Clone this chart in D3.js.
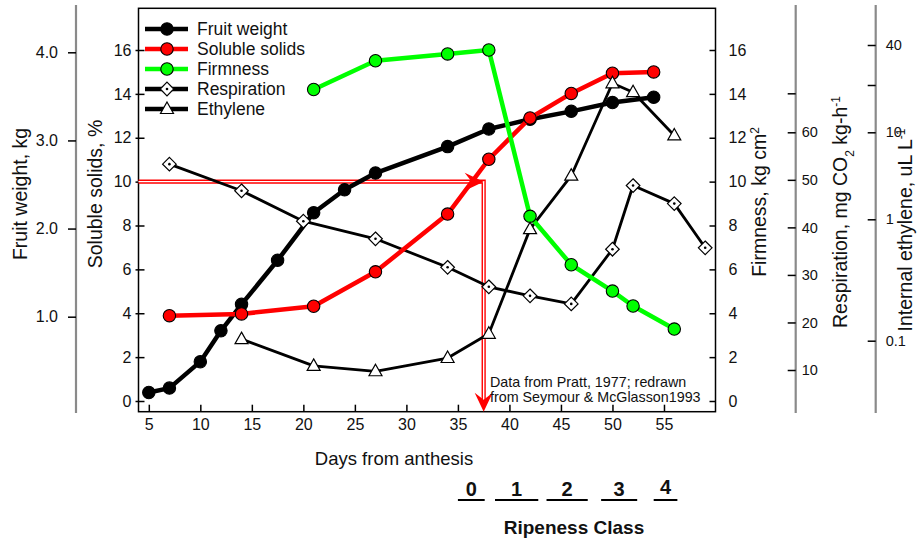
<!DOCTYPE html>
<html>
<head>
<meta charset="utf-8">
<script src="https://cdn.jsdelivr.net/npm/d3@7"></script>
<style>
html,body{margin:0;padding:0;background:#fff;}
svg{display:block;font-family:"Liberation Sans",Arial,Helvetica,sans-serif;}
</style>
</head>
<body>
<svg id="chart" width="917" height="542"></svg>
<script>
// ---------------- data ----------------
const fwDays   = [5, 7, 10, 12, 14, 17.5, 21, 24, 27, 34, 38, 42, 46, 50, 54];
const fwVals   = [0.14, 0.19, 0.49, 0.84, 1.14, 1.64, 2.18, 2.44, 2.63, 2.93, 3.13, 3.24, 3.33, 3.43, 3.49]; // kg

const ssDays   = [7, 14, 21, 27, 34, 38, 42, 46, 50, 54];
const ssVals   = [3.89, 3.97, 4.32, 5.89, 8.52, 11.02, 12.9, 14.02, 14.94, 15.0]; // %

const firmDays = [21, 27, 34, 38, 42, 46, 50, 52, 56];
const firmVals = [14.2, 15.51, 15.82, 16.0, 8.42, 6.21, 5.01, 4.33, 3.28]; // kg cm-2

const respDays = [7, 14, 20, 27, 34, 38, 42, 46, 50, 52, 56, 59];
const respVals = [53.3, 47.7, 41.3, 37.6, 31.6, 27.5, 25.6, 23.9, 35.4, 48.8, 45.0, 35.7]; // mg CO2 kg-1 h-1

const ethDays  = [14, 21, 27, 34, 38, 42, 46, 50, 52, 56];
const ethVals  = [0.103, 0.062, 0.056, 0.072, 0.114, 0.83, 3.17, 20.6, 18.0, 9.2]; // uL L-1

const xTicks     = [5, 10, 15, 20, 25, 30, 35, 40, 45, 50, 55];
const ssTicks    = [0, 2, 4, 6, 8, 10, 12, 14, 16];
const firmTicks  = [0, 2, 4, 6, 8, 10, 12, 14, 16];
const fwTicks    = [1, 2, 3, 4];
const respTicks  = [10, 20, 30, 40, 50, 60, 68.2];
const respLabels = ["10", "20", "30", "40", "50", "60", ""];
const ethTicks   = [0.1, 1, 10, 20, 40];
const ethLabels  = ["0.1", "1", "10", "", "40"];

const ripenessClasses = ["0", "1", "2", "3", "4"];
const ripenessStart   = [35.0, 38.6, 43.6, 48.9, 54.0]; // days
const ripenessEnd     = [37.6, 42.8, 47.6, 52.4, 56.3];

const markerDay = 37.5;   // red guide: 10 % soluble solids
const markerSS  = 10;

const legendNames = ["Fruit weight", "Soluble solids", "Firmness", "Respiration", "Ethylene"];

// ---------------- layout ----------------
const svg = d3.select("#chart");
const frameTop = 8.3, frameBottom = 411.7;
const x = d3.scaleLinear().domain([4, 60]).range([138.5, 715.5]);
const ySS = d3.scaleLinear().domain([0, 16]).range([401, 50]);
const yFirm = d3.scaleLinear().domain([0, 16]).range([401, 50]);
const yFW = d3.scaleLinear().domain([1, 4]).range([316.7, 52.3]);
const yResp = d3.scaleLinear().domain([10, 60]).range([370, 132.3]);
const ethPos = d3.scaleLinear()
  .domain([-1, 0, 1, Math.log10(20), Math.log10(40)])
  .range([340.7, 219.3, 132.3, 85, 45]);
const yEth = v => ethPos(Math.log10(v));

const axisGray = "#8a8a8a";
const fontMain = "16px";

function styleAxis(g, size) {
  g.selectAll(".domain").remove();
  g.selectAll(".tick line").attr("stroke", "#000").attr("stroke-width", 1.5);
  g.selectAll(".tick text").attr("fill", "#111").style("font-size", size).style("font-family", null);
  g.attr("font-family", null);
}

// frame
svg.append("rect")
  .attr("x", x(4)).attr("y", frameTop)
  .attr("width", x(60) - x(4)).attr("height", frameBottom - frameTop)
  .attr("fill", "none").attr("stroke", "#000").attr("stroke-width", 1.5);

// x axis (ticks inward)
const gx = svg.append("g").attr("transform", `translate(0,${frameBottom})`)
  .call(d3.axisBottom(x).tickValues(xTicks).tickSize(-7).tickPadding(7));
styleAxis(gx, fontMain);

// soluble solids axis (frame left)
const gss = svg.append("g").attr("transform", `translate(${x(4)},0)`)
  .call(d3.axisLeft(ySS).tickValues(ssTicks).tickSize(-6).tickPadding(7));
styleAxis(gss, fontMain);
const gss2 = svg.append("g").attr("transform", `translate(${x(4)},0)`)
  .call(d3.axisLeft(ySS).tickValues(ssTicks).tickSize(3).tickFormat(""));
styleAxis(gss2, fontMain);

// firmness axis (frame right)
const gfi = svg.append("g").attr("transform", `translate(${x(60)},0)`)
  .call(d3.axisRight(yFirm).tickValues(firmTicks).tickSize(-6).tickPadding(13));
styleAxis(gfi, fontMain);

// fruit weight axis (far left)
svg.append("line").attr("x1", 76).attr("x2", 76).attr("y1", 5).attr("y2", 413)
  .attr("stroke", axisGray).attr("stroke-width", 2.2);
const gfw = svg.append("g").attr("transform", "translate(76,0)")
  .call(d3.axisLeft(yFW).tickValues(fwTicks).tickFormat(d3.format(".1f")).tickSize(8).tickPadding(10));
styleAxis(gfw, fontMain);

// respiration axis
svg.append("line").attr("x1", 795.7).attr("x2", 795.7).attr("y1", 5).attr("y2", 413)
  .attr("stroke", axisGray).attr("stroke-width", 2.2);
const gre = svg.append("g").attr("transform", "translate(795.7,0)")
  .call(d3.axisRight(yResp).tickValues(respTicks).tickFormat((d, i) => respLabels[i]).tickSize(-8).tickPadding(6));
styleAxis(gre, "14.5px");

// ethylene axis
svg.append("line").attr("x1", 875.7).attr("x2", 875.7).attr("y1", 5).attr("y2", 413)
  .attr("stroke", axisGray).attr("stroke-width", 2.2);
const get = svg.append("g").attr("transform", "translate(875.7,0)")
  .call(d3.axisRight(ethPos).tickValues(ethTicks.map(v => Math.log10(v))).tickFormat((d, i) => ethLabels[i]).tickSize(-8).tickPadding(10));
styleAxis(get, "14.5px");

// ---------------- titles ----------------
const titleSize = "19.5px";
function vTitle(xp, yp, parts, size) {
  const t = svg.append("text")
    .attr("transform", `translate(${xp},${yp}) rotate(-90)`)
    .attr("text-anchor", "middle")
    .style("font-size", size || titleSize).attr("fill", "#111");
  parts.forEach(p => {
    const ts = t.append("tspan").text(p.t);
    if (p.sup) ts.attr("baseline-shift", "super").style("font-size", "12px");
    if (p.sub) ts.attr("baseline-shift", "sub").style("font-size", "12px");
  });
  return t;
}
vTitle(27, 194, [{t: "Fruit weight, kg"}]);
vTitle(102, 194, [{t: "Soluble solids, %"}]);
vTitle(766, 202, [{t: "Firmness, kg cm"}, {t: "2", sup: true}]);
vTitle(847, 212, [{t: "Respiration, mg CO"}, {t: "2", sub: true}, {t: " kg-h"}, {t: "-1", sup: true}]);
vTitle(912, 230, [{t: "Internal ethylene, uL L"}, {t: "-1", sup: true}]);

svg.append("text").attr("x", 394).attr("y", 465).attr("text-anchor", "middle")
  .style("font-size", "18.5px").attr("fill", "#111").text("Days from anthesis");

// ---------------- red guide ----------------
const guide = svg.append("g");
const guidePath = `M${x(4)},${ySS(markerSS)}H${x(markerDay)}V${frameBottom - 6}`;
guide.append("path").attr("d", guidePath).attr("fill", "none")
  .attr("stroke", "#ff0000").attr("stroke-width", 4.2);
guide.append("path").attr("d", guidePath).attr("fill", "none")
  .attr("stroke", "#fff").attr("stroke-width", 1.4);
function arrowHead(tx, ty, angleDeg) {
  const L = 19, w = 9, notch = 12;
  guide.append("path")
    .attr("d", `M0,0L${-L},${-w}L${-notch},0L${-L},${w}Z`)
    .attr("transform", `translate(${tx},${ty}) rotate(${angleDeg})`)
    .attr("fill", "#ff0000");
}
arrowHead(x(markerDay), ySS(markerSS), 0);
arrowHead(x(markerDay), frameBottom, 90);

// ---------------- series ----------------
function series(days, vals, yS, color, width) {
  const pts = days.map((d, i) => [x(d), yS(vals[i])]);
  svg.append("path").attr("d", d3.line()(pts)).attr("fill", "none")
    .attr("stroke", color).attr("stroke-width", width).attr("stroke-linejoin", "round");
  return pts;
}
function circles(pts, fill) {
  svg.append("g").selectAll("circle").data(pts).join("circle")
    .attr("cx", d => d[0]).attr("cy", d => d[1]).attr("r", 6.2)
    .attr("fill", fill).attr("stroke", "#000").attr("stroke-width", 1.1);
}
function diamonds(pts) {
  const g = svg.append("g").selectAll("g").data(pts).join("g")
    .attr("transform", d => `translate(${d[0]},${d[1]})`);
  g.append("path").attr("d", "M0,-6.8L6.8,0L0,6.8L-6.8,0Z")
    .attr("fill", "#fff").attr("stroke", "#000").attr("stroke-width", 1.2);
  g.append("circle").attr("r", 1.3).attr("fill", "#000");
}
function triangles(pts) {
  svg.append("g").selectAll("path").data(pts).join("path")
    .attr("d", "M0,-7L6.5,4.5L-6.5,4.5Z")
    .attr("transform", d => `translate(${d[0]},${d[1]})`)
    .attr("fill", "#fff").attr("stroke", "#000").attr("stroke-width", 1.2);
}

const ethPts = series(ethDays, ethVals, yEth, "#000", 2.8);
const respPts = series(respDays, respVals, yResp, "#000", 2.8);
const fwPts = series(fwDays, fwVals, yFW, "#000", 4.5);
circles(fwPts, "#000");
const ssPts = series(ssDays, ssVals, ySS, "#ff0000", 4.5);
const firmPts = series(firmDays, firmVals, yFirm, "#00ff00", 4.5);
circles(ssPts, "#ff0000");
circles(firmPts, "#00ff00");
triangles(ethPts);
diamonds(respPts);

// ---------------- legend ----------------
const legColors = ["#000", "#ff0000", "#00ff00", "#000", "#000"];
const lg = svg.append("g");
legendNames.forEach((name, i) => {
  const yy = 29 + 20 * i;
  lg.append("line").attr("x1", 145).attr("x2", 188).attr("y1", yy).attr("y2", yy)
    .attr("stroke", legColors[i]).attr("stroke-width", 4.5);
  if (i < 3) {
    lg.append("circle").attr("cx", 167).attr("cy", yy).attr("r", 6.2)
      .attr("fill", legColors[i]).attr("stroke", "#000").attr("stroke-width", 1.1);
  } else if (i === 3) {
    lg.append("path").attr("d", "M0,-6.8L6.8,0L0,6.8L-6.8,0Z").attr("transform", `translate(167,${yy})`)
      .attr("fill", "#fff").attr("stroke", "#000").attr("stroke-width", 1.2);
    lg.append("circle").attr("cx", 167).attr("cy", yy).attr("r", 1.3).attr("fill", "#000");
  } else {
    lg.append("path").attr("d", "M0,-7L6.5,4.5L-6.5,4.5Z").attr("transform", `translate(167,${yy})`)
      .attr("fill", "#fff").attr("stroke", "#000").attr("stroke-width", 1.2);
  }
  lg.append("text").attr("x", 197).attr("y", yy).attr("dy", "0.36em")
    .style("font-size", "17.5px").attr("fill", "#111").text(name);
});

// ---------------- note ----------------
const note = svg.append("text").style("font-size", "14.3px").attr("fill", "#111");
note.append("tspan").attr("x", 490).attr("y", 386.7).text("Data from Pratt, 1977; redrawn");
note.append("tspan").attr("x", 490).attr("y", 402.3).text("from Seymour & McGlasson1993");

// ---------------- ripeness class ----------------
const rg = svg.append("g");
ripenessClasses.forEach((c, i) => {
  const a = x(ripenessStart[i]), b = x(ripenessEnd[i]);
  rg.append("line").attr("x1", a).attr("x2", b).attr("y1", 500).attr("y2", 500)
    .attr("stroke", "#000").attr("stroke-width", 2);
  rg.append("text").attr("x", (a + b) / 2).attr("y", i === 4 ? 494 : 496)
    .attr("text-anchor", "middle").style("font-size", "20px").style("font-weight", "bold")
    .attr("fill", "#111").text(c);
});
rg.append("text").attr("x", 574).attr("y", 534).attr("text-anchor", "middle")
  .style("font-size", "19px").style("font-weight", "bold").attr("fill", "#111").text("Ripeness Class");
</script>
</body>
</html>
